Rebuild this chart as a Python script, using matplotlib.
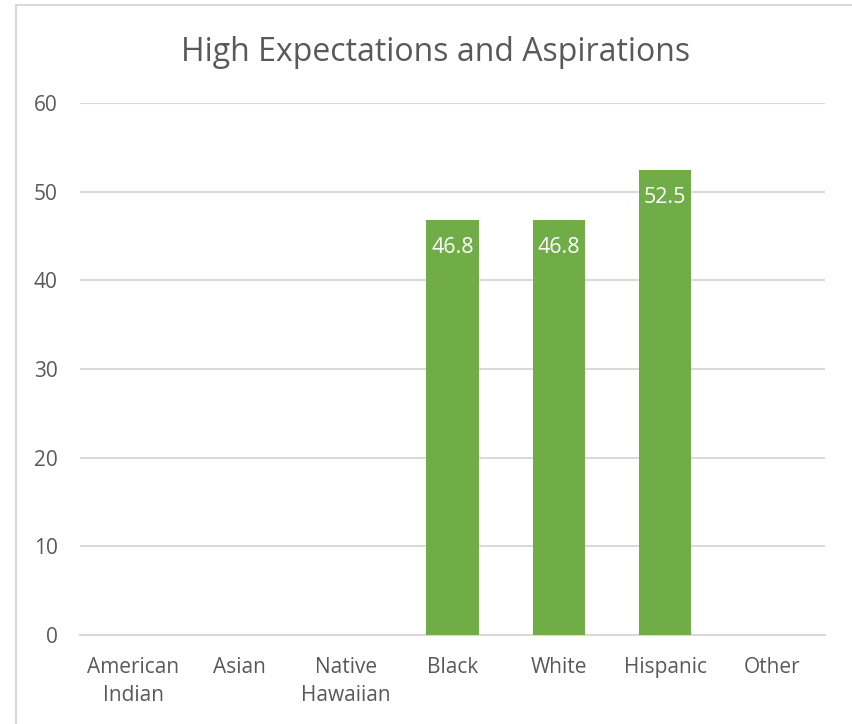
import matplotlib.pyplot as plt
from matplotlib.lines import Line2D

categories = ["American\nIndian", "Asian", "Native\nHawaiian", "Black", "White", "Hispanic", "Other"]
values = [None, None, None, 46.8, 46.8, 52.5, None]
y_ticks = [0, 10, 20, 30, 40, 50, 60]

BAR_COLOR = "#70AD47"
GRID_COLOR = "#D9D9D9"
TEXT_COLOR = "#595959"

plt.rcParams["font.family"] = ["Open Sans", "DejaVu Sans"]


def main():
    fig = plt.figure(figsize=(8.53, 7.24), dpi=100)
    ax = fig.add_axes([0.0938, 0.1229, 0.8732, 0.7348])

    x = list(range(len(categories)))
    heights = [v if v is not None else 0 for v in values]
    bars = ax.bar(x, heights, width=0.49, color=BAR_COLOR, zorder=3)

    for bar, v in zip(bars, values):
        if v is None:
            bar.set_visible(False)
            continue
        ax.annotate(f"{v:.1f}", (bar.get_x() + bar.get_width() / 2, v),
                    xytext=(0, -20), textcoords="offset points",
                    ha="center", va="center", color="white", fontsize=15.5)

    ax.set_xlim(-0.5, len(categories) - 0.5)
    ax.set_ylim(0, 60)
    ax.set_yticks(y_ticks)
    ax.set_xticks(x)
    ax.set_xticklabels(categories, linespacing=1.4, va="top")
    ax.tick_params(axis="both", length=0, colors=TEXT_COLOR, labelsize=15)
    ax.tick_params(axis="x", pad=16)
    ax.tick_params(axis="y", pad=16)
    ax.grid(axis="y", color=GRID_COLOR, linewidth=1.5, zorder=0)
    for side in ["top", "right", "left"]:
        ax.spines[side].set_visible(False)
    ax.spines["bottom"].set_color(GRID_COLOR)
    ax.spines["bottom"].set_linewidth(1.5)

    fig.text(0.511, 0.927, "High Expectations and Aspirations", ha="center", va="center",
             fontsize=23, color=TEXT_COLOR)

    # chart area frame (left and top edges)
    fig.add_artist(Line2D([16 / 853, 16 / 853], [0, 1 - 5 / 724],
                          transform=fig.transFigure, color=GRID_COLOR, linewidth=1.5))
    fig.add_artist(Line2D([16 / 853, 1], [1 - 5 / 724, 1 - 5 / 724],
                          transform=fig.transFigure, color=GRID_COLOR, linewidth=1.5))

    fig.savefig("out.png", dpi=100)
    plt.close(fig)


if __name__ == "__main__":
    main()
